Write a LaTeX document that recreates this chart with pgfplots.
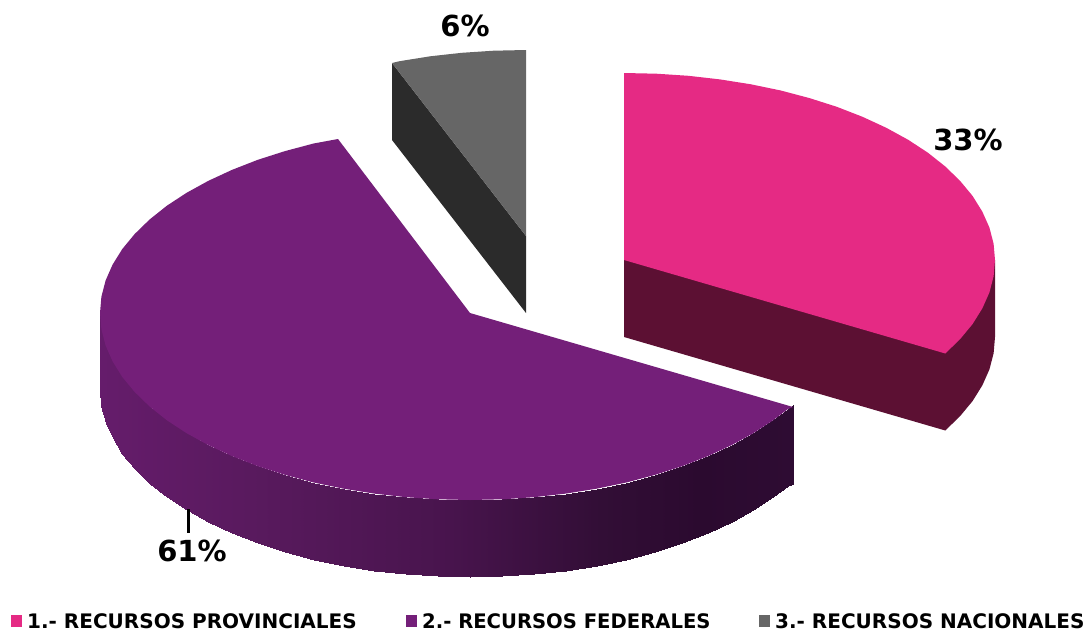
\documentclass[border=0pt]{standalone}
\usepackage{pgfplots}
\pgfplotsset{compat=1.18}
\usepackage{fontspec}
\setmainfont{DejaVu Sans}
\definecolor{pink1}{HTML}{E52A84}
\definecolor{pink2}{HTML}{5C1033}
\definecolor{purp1}{HTML}{741F79}
\definecolor{gray1}{HTML}{666666}
\definecolor{gray2}{HTML}{2B2B2B}
\pgfplotsset{colormap={wall}{
 rgb255(100)=(101,28,107)
 rgb255(250)=(89,26,94)
 rgb255(450)=(72,20,77)
 rgb255(600)=(50,14,54)
 rgb255(700)=(43,10,47)
 rgb255(793)=(46,12,51)
}}
\begin{document}
\begin{tikzpicture}
\begin{axis}[
 scale only axis, width=1091pt, height=632pt,
 xmin=0, xmax=1091, ymin=0, ymax=632, y dir=reverse,
 xtick=\empty, ytick=\empty, axis line style={draw=none},
 clip=false, point meta min=100, point meta max=793,
 colormap name=wall]
% purple wall
\addplot[surf, shader=interp, mesh/rows=32, mesh/cols=2, point meta=x] coordinates {
(100,313)(100,390)
(101.4,329.3)(101.4,406.3)
(105.6,345.5)(105.6,422.5)
(112.6,361.4)(112.6,438.4)
(122.3,377)(122.3,454)
(134.7,392)(134.7,469)
(149.6,406.5)(149.6,483.5)
(166.9,420.3)(166.9,497.3)
(186.6,433.2)(186.6,510.2)
(208.4,445.2)(208.4,522.2)
(232.2,456.2)(232.2,533.2)
(257.8,466.2)(257.8,543.2)
(285,474.9)(285,551.9)
(313.6,482.5)(313.6,559.5)
(343.5,488.7)(343.5,565.7)
(374.2,493.6)(374.2,570.6)
(405.8,497.2)(405.8,574.2)
(437.7,499.3)(437.7,576.3)
(470,500)(470,577)
(502.3,499.3)(502.3,576.3)
(534.2,497.2)(534.2,574.2)
(565.8,493.6)(565.8,570.6)
(596.5,488.7)(596.5,565.7)
(626.4,482.5)(626.4,559.5)
(655,474.9)(655,551.9)
(682.2,466.2)(682.2,543.2)
(707.8,456.2)(707.8,533.2)
(731.6,445.2)(731.6,522.2)
(753.4,433.2)(753.4,510.2)
(773.1,420.3)(773.1,497.3)
(788,409)(788,486)
(793,405)(793,484)
};
% purple top
\addplot[fill=purp1, draw=none] coordinates {
(470,313)(338,139)(313.6,143.5)(285,151.1)(257.8,159.8)(232.2,169.8)(208.4,180.8)(186.6,192.8)(166.9,205.7)(149.6,219.5)(134.7,234)(122.3,249)(112.6,264.6)(105.6,280.5)(101.4,296.7)(100,313)
(101.4,329.3)(105.6,345.5)(112.6,361.4)(122.3,377)(134.7,392)(149.6,406.5)(166.9,420.3)(186.6,433.2)(208.4,445.2)(232.2,456.2)(257.8,466.2)(285,474.9)(313.6,482.5)(343.5,488.7)(374.2,493.6)(405.8,497.2)(437.7,499.3)(470,500)
(502.3,499.3)(534.2,497.2)(565.8,493.6)(596.5,488.7)(626.4,482.5)(655,474.9)(682.2,466.2)(707.8,456.2)(731.6,445.2)(753.4,433.2)(773.1,420.3)(788,409)(793,407)
} -- cycle;
% grey
\addplot[fill=gray2, draw=none] coordinates {(392,63)(526,236)(526,313)(392,140)} -- cycle;
\addplot[fill=gray1, draw=none] coordinates {(526,236)(526,50)(493.7,50.7)(461.8,52.8)(430.2,56.3)(399.5,61.2)(392,63)} -- cycle;
% pink
\addplot[fill=pink2, draw=none] coordinates {(624,260)(995,260)(995,337)(993.6,353.3)(989.4,369.5)(982.3,385.4)(972.6,401)(960.2,416)(945.3,430.5)(624,337)} -- cycle;
\addplot[fill=pink1, draw=none] coordinates {(624,260)(624,73)(656.4,73.7)(688.4,75.8)(720,79.4)(750.9,84.3)(780.8,90.5)(809.5,98.1)(836.8,106.8)(862.5,116.8)(886.3,127.8)(908.2,139.8)(927.9,152.7)(945.3,166.5)(960.2,181)(972.6,196)(982.3,211.6)(989.4,227.5)(993.6,243.7)(995,260)(993.6,276.3)(989.4,292.5)(982.3,308.4)(972.6,324)(960.2,339)(945.3,353.5)} -- cycle;
% leader
\addplot[black, line width=3pt] coordinates {(188,509)(188,533)};
% legend keys
\addplot[fill=pink1, draw=none] coordinates {(11,615)(22,615)(22,627)(11,627)} -- cycle;
\addplot[fill=purp1, draw=none] coordinates {(406,615)(417,615)(417,627)(406,627)} -- cycle;
\addplot[fill=gray1, draw=none] coordinates {(759,615)(770,615)(770,627)(759,627)} -- cycle;
\node[font=\fontsize{29}{29}\selectfont\bfseries, inner sep=0pt] at (axis cs:968,140) {33\%};
\node[font=\fontsize{29}{29}\selectfont\bfseries, inner sep=0pt] at (axis cs:465,26) {6\%};
\node[font=\fontsize{29}{29}\selectfont\bfseries, inner sep=0pt] at (axis cs:192,551) {61\%};
\node[font=\fontsize{20}{20}\selectfont\bfseries, inner sep=0pt, anchor=west] at (axis cs:27,621) {1.- RECURSOS PROVINCIALES};
\node[font=\fontsize{20}{20}\selectfont\bfseries, inner sep=0pt, anchor=west] at (axis cs:422,621) {\scalebox{.98}[1]{2.- RECURSOS FEDERALES}};
\node[font=\fontsize{20}{20}\selectfont\bfseries, inner sep=0pt, anchor=west] at (axis cs:775,621) {3.- RECURSOS NACIONALES};
\end{axis}
\end{tikzpicture}
\end{document}
